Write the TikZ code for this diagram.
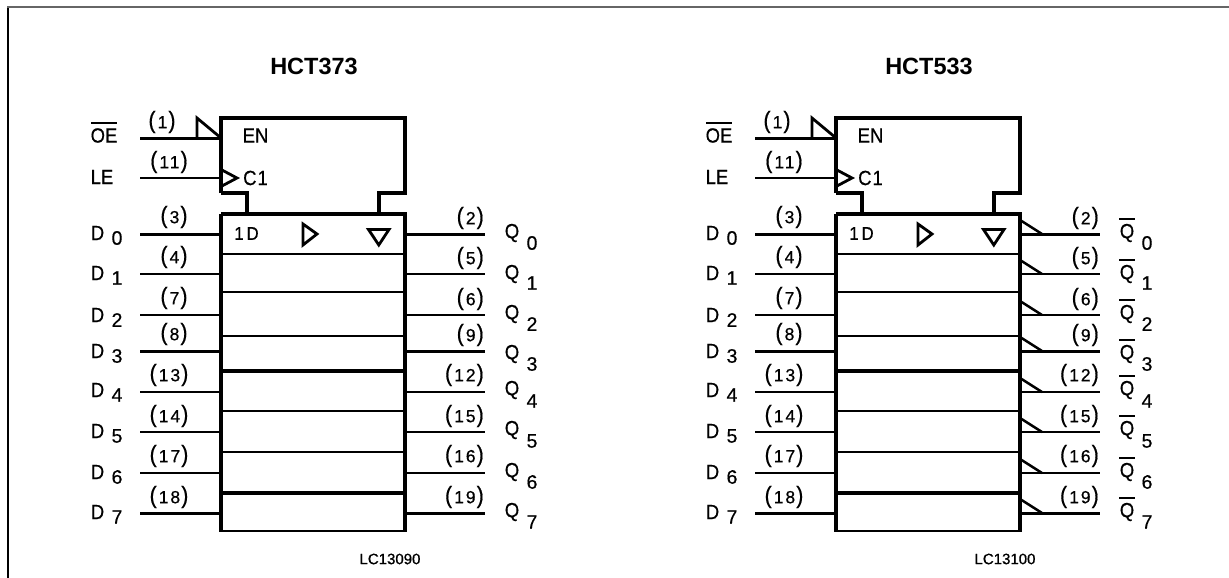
\documentclass[tikz,border=0pt]{standalone}
\usepackage{fontspec}
\setmainfont{Liberation Sans}
\newfontfamily\txtf[FakeStretch=0.9,FakeBold=0.5]{Liberation Sans}
\newfontfamily\subf[FakeBold=0.5]{Liberation Sans}
\newfontfamily\pinf[LetterSpace=11,FakeBold=0.5]{Liberation Sans}
\newfontfamily\codef[FakeBold=0.7]{Liberation Sans}
\newcommand{\pp}[1]{{\txtf\fontsize{24}{24}\selectfont(}\kern2pt{\pinf\fontsize{17.5}{17}\selectfont #1}\kern1pt{\txtf\fontsize{24}{24}\selectfont)}}
\begin{document}
\begin{tikzpicture}[x=1pt,y=-1pt,
  lb/.style={inner sep=0pt},
  big/.style={inner sep=0pt,font=\txtf\fontsize{20.5}{20}\selectfont},
  sub/.style={inner sep=0pt,font=\subf\fontsize{19.5}{19}\selectfont},
  odlb/.style={inner sep=0pt,font=\txtf\fontsize{18.5}{19}\selectfont},
  titlelb/.style={inner sep=0pt,font=\fontsize{23.5}{24}\selectfont\bfseries},
  codelb/.style={inner sep=0pt,font=\codef\fontsize{15}{15}\selectfont},
  heavy/.style={line width=3pt,line cap=butt},
  light/.style={line width=1.6pt,line cap=butt},
  boxline/.style={line width=3.6pt,line join=miter},
  sym/.style={line width=2.8pt,line join=miter}]
\useasboundingbox (0,0) rectangle (1229,578);
\fill[white] (0,0) rectangle (1229,578);
\coordinate (frameBL) at (8.2,578);
\coordinate (frameTL) at (8.2,6);
\coordinate (frameTR) at (1229,6.8);
\coordinate (frameTLb) at (7,6.8);
\draw[line width=2.3pt,black] (frameBL) -- (frameTL);
\draw[line width=1.7pt,black!60] (frameTLb) -- (frameTR);
% #1 prefix, #2 x offset, #3 title, #4 code, #5 = 1 for inverted outputs
\newcommand{\ffblock}[5]{%
\begin{scope}[xshift=#2pt]
  \node[titlelb] (#1title) at (314,66.5) {#3};
  \node[codelb] (#1code) at (390,559) {#4};
  \coordinate (#1enTL) at (221,118);
  \coordinate (#1enTR) at (405,118);
  \coordinate (#1enBR) at (405,193);
  \coordinate (#1enBL) at (221,193);
  \coordinate (#1stepL) at (247,193);
  \coordinate (#1stepR) at (379,193);
  \coordinate (#1mTL) at (221,214);
  \coordinate (#1mTR) at (405,214);
  \coordinate (#1mBR) at (405,531);
  \coordinate (#1mBL) at (221,531);
  \coordinate (#1stepLb) at (247,214);
  \coordinate (#1stepRb) at (379,214);
  \draw[boxline] (#1enBL) -- (#1enTL) -- (#1enTR) -- (#1enBR) -- (#1stepR) -- (#1stepRb);
  \draw[boxline] (#1enBL) -- (#1stepL) -- (#1stepLb);
  \draw[boxline] (#1mTL) -- (#1mTR) -- (#1mBR);
  \draw[boxline] (#1mTL) -- (#1mBL);
  \draw[line width=2.4pt] (219.2,531) -- (#1mBL) -- (#1mBR) -- (406.8,531);
  \foreach \yy/\ww [count=\i] in {254/2.4,292/2.6,336/2.6,371/3.2,411/2.3,452/2.2,493/3.2}{
    \coordinate (#1rowL\i) at (221,\yy);
    \coordinate (#1rowR\i) at (405,\yy);
    \draw[line width=\ww pt] (#1rowL\i) -- (#1rowR\i);
  }
  \coordinate (#1oeS) at (140,138);
  \coordinate (#1oeE) at (221,138);
  \coordinate (#1leS) at (140,178);
  \coordinate (#1leE) at (221,178);
  \draw[heavy] (#1oeS) -- (#1oeE);
  \draw[light] (#1leS) -- (#1leE);
  \draw[sym] (197,138) -- (197,118) -- (#1oeE);
  \draw[sym] (221,169.5) -- (237,178) -- (221,186.5);
  \node[big] (#1oe) at (104,135.5) {OE};
  \coordinate (#1oeBarL) at (91,123);
  \coordinate (#1oeBarR) at (117,123);
  \draw[line width=2pt] (#1oeBarL) -- (#1oeBarR);
  \node[lb] (#1oeN) at (162,122) {\pp{1}};
  \node[lb] (#1leN) at (169,162) {\pp{11}};
  \node[big] (#1le) at (102,177) {LE};
  \node[big] (#1en) at (255.5,135.5) {EN};
  \node[big] (#1c) at (255.5,178) {C\kern1pt 1};
  \node[odlb] (#1od) at (246.5,233.5) {1\kern3pt D};
  \draw[sym] (303,224) -- (317,234) -- (303,245) -- cycle;
  \draw[sym] (368.5,229.5) -- (389,229.5) -- (378.8,245) -- cycle;
  \foreach \dn/\qn/\wy/\dy/\qy/\qd/\nly/\ww [count=\i from 0] in
    {3/2/234/233/233/243/218/3,
     4/5/274/273/274/283/258/2,
     7/6/315/315/314/324/299/2.6,
     8/9/351/351/354/364/335/3,
     13/12/392/390/390/401/375/2,
     14/15/432/431/430/441/416/2,
     17/16/473/472/472/482/456/1.7,
     18/19/513/512/512/522/497/3}{
    \coordinate (#1dS\i) at (140,\wy);
    \coordinate (#1dE\i) at (221,\wy);
    \coordinate (#1qS\i) at (405,\wy);
    \coordinate (#1qE\i) at (485,\wy);
    \draw[line width=\ww pt] (#1dS\i) -- (#1dE\i);
    \draw[line width=\ww pt] (#1qS\i) -- (#1qE\i);
    \node[big] (#1dL\i) at (97.5,\dy) {D};
    \node[sub] (#1dI\i) at (117,\dy+5) {\i};
    \ifnum\i<4
      \node[lb] (#1dP\i) at (174,\nly-1) {\pp{\dn}};
    \else
      \node[lb] (#1dP\i) at (169,\nly) {\pp{\dn}};
    \fi
    \node[lb,anchor=east] (#1qP\i) at (484,\nly) {\pp{\qn}};
    \node[big] (#1qL\i) at (512,\qy) {Q};
    \node[sub] (#1qI\i) at (532,\qd) {\i};
    \ifnum#5=1
      \draw[line width=2.5pt] (405,\wy-14) -- (427,\wy);
      \draw[line width=2pt] (504,\qy-14.5) -- (520,\qy-14.5);
    \fi
  }
\end{scope}}
\ffblock{a}{0}{HCT373}{LC13090}{0}
\ffblock{b}{615}{HCT533}{LC13100}{1}
\end{tikzpicture}
\end{document}
